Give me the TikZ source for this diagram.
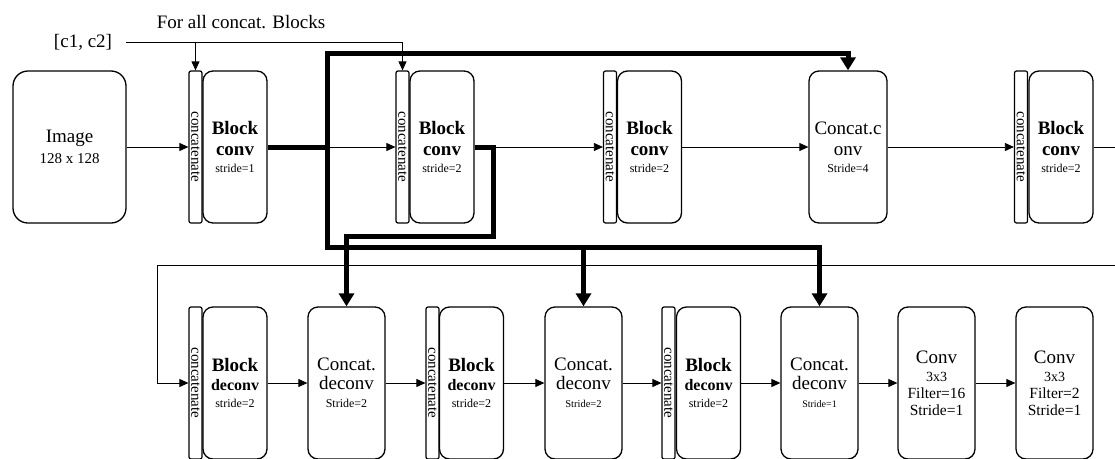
\documentclass[tikz,border=0pt]{standalone}
\usepackage{fontspec}
\setmainfont{Liberation Serif}
\usetikzlibrary{arrows.meta}
\tikzset{
  box/.style={draw, line width=1.3pt, rounded corners=10pt, minimum height=152pt, inner sep=0pt, align=center},
  imgbox/.style={box, rounded corners=15pt, minimum width=113pt, font=\fontsize{19}{21}\selectfont},
  blk/.style={box, minimum width=64pt, font=\fontsize{19}{21}\selectfont\bfseries},
  dblk/.style={box, minimum width=64pt, font=\fontsize{19}{19}\selectfont\bfseries},
  cbox/.style={box, minimum width=77pt, font=\fontsize{19}{19}\selectfont},
  strip/.style={draw, line width=1.2pt, rounded corners=2pt, minimum width=13pt, minimum height=152pt, inner sep=0pt, font=\fontsize{15}{15}\selectfont},
  conn/.style={line width=0.8pt, -{Triangle[length=9pt,width=8pt]}},
  plain/.style={line width=0.8pt},
  thk/.style={line width=5pt},
  thkarrow/.style={line width=5pt, -{Triangle[length=13pt,width=15pt]}},
  lbl/.style={font=\fontsize{19}{21}\selectfont, inner sep=0pt}
}
\newcommand{\cattext}{\rotatebox{-90}{concatenate}}
\begin{document}
\begin{tikzpicture}[x=1pt, y=-1pt]
\useasboundingbox (0,0) rectangle (1115,458);
\clip (0,0) rectangle (1115,458);

% top row
\node[imgbox] (img) at (69.5,147) {Image\\{\fontsize{15}{15}\selectfont 128 x 128}};
\node[strip] (s1) at (195.5,147) {\cattext};
\node[blk] (b1) at (235,147) {Block\\conv\\[-4pt]{\fontsize{12}{12}\selectfont\mdseries stride=1}};
\node[strip] (s2) at (402.5,147) {\cattext};
\node[blk] (b2) at (442,147) {Block\\conv\\[-4pt]{\fontsize{12}{12}\selectfont\mdseries stride=2}};
\node[strip] (s3) at (610,147) {\cattext};
\node[blk] (b3) at (649.5,147) {Block\\conv\\[-4pt]{\fontsize{12}{12}\selectfont\mdseries stride=2}};
\node[box, minimum width=78pt, font=\fontsize{19}{21}\selectfont] (cc) at (848,147) {Concat.c\\onv\\[-4pt]{\fontsize{12}{12}\selectfont Stride=4}};
\node[strip] (s4) at (1021,147) {\cattext};
\node[blk] (b4) at (1061,147) {Block\\conv\\[-4pt]{\fontsize{12}{12}\selectfont\mdseries stride=2}};

% bottom row
\node[strip] (s5) at (195.5,383) {\cattext};
\node[dblk] (b5) at (235,383) {Block\\{\fontsize{16}{16}\selectfont deconv}\\[-2pt]{\fontsize{12}{12}\selectfont\mdseries stride=2}};
\node[cbox] (cd1) at (346.5,383) {Concat.\\deconv\\[-1pt]{\fontsize{12}{12}\selectfont Stride=2}};
\node[strip] (s6) at (432.5,383) {\cattext};
\node[dblk] (b6) at (471.5,383) {Block\\{\fontsize{16}{16}\selectfont deconv}\\[-2pt]{\fontsize{12}{12}\selectfont\mdseries stride=2}};
\node[cbox] (cd2) at (583.5,383) {Concat.\\deconv\\[-1pt]{\fontsize{10.5}{10.5}\selectfont Stride=2}};
\node[strip] (s7) at (668.5,383) {\cattext};
\node[dblk] (b7) at (708.5,383) {Block\\{\fontsize{16}{16}\selectfont deconv}\\[-2pt]{\fontsize{12}{12}\selectfont\mdseries stride=2}};
\node[cbox] (cd3) at (819.5,383) {Concat.\\deconv\\[-1pt]{\fontsize{10}{10}\selectfont Stride=1}};
\node[box, minimum width=77pt, font=\fontsize{19}{18}\selectfont] (cv1) at (936.5,383) {Conv\\{\fontsize{14}{14}\selectfont 3x3}\\[-1pt]{\fontsize{15.5}{15}\selectfont Filter=16}\\[-1pt]{\fontsize{15.5}{15}\selectfont Stride=1}};
\node[box, minimum width=77pt, font=\fontsize{19}{18}\selectfont] (cv2) at (1054.5,383) {Conv\\{\fontsize{14}{14}\selectfont 3x3}\\[-1pt]{\fontsize{15.5}{15}\selectfont Filter=2}\\[-1pt]{\fontsize{15.5}{15}\selectfont Stride=1}};

% labels
\node[lbl] (note) at (241,22) {For all concat. Blocks};
\node[lbl, inner xsep=14pt] (cin) at (83,42) {[c1, c2]};

% coordinates
\coordinate (j1) at (327,147);
\coordinate (j2) at (493,147);
\coordinate (topy) at (0,53);
\coordinate (boty) at (0,247);
\coordinate (midy) at (0,236);
\coordinate (cy) at (0,42);
\coordinate (r1) at (1115,147);
\coordinate (r2) at (1115,265);
\coordinate (l2) at (157,265);

% thin connectors
\draw[plain] (cin.east) -- (s2.north |- cy);
\draw[conn] (s2.north |- cy) -- (s2.north);
\draw[conn] (s1.north |- cy) -- (s1.north);
\draw[conn] (img.east) -- (s1.west);
\draw[conn] (j1) -- (s2.west);
\draw[conn] (j2) -- (s3.west);
\draw[conn] (b3.east) -- (cc.west);
\draw[conn] (cc.east) -- (s4.west);
\draw[plain] (b4.east) -- (r1);
\draw[conn] (r2) -- (l2) |- (s5.west);
\draw[conn] (b5.east) -- (cd1.west);
\draw[conn] (cd1.east) -- (s6.west);
\draw[conn] (b6.east) -- (cd2.west);
\draw[conn] (cd2.east) -- (s7.west);
\draw[conn] (b7.east) -- (cd3.west);
\draw[conn] (cd3.east) -- (cv1.west);
\draw[conn] (cv1.east) -- (cv2.west);

% thick skip connectors
\draw[thk] (b1.east) -- (j1);
\draw[thkarrow] (j1) |- (cc.north |- topy) -- (cc.north);
\draw[thkarrow] (j1) |- (cd3.north |- boty) -- (cd3.north);
\draw[thkarrow] (cd2.north |- boty) -- (cd2.north);
\draw[thkarrow] (b2.east) -- (j2) |- (cd1.north |- midy) -- (cd1.north);
\end{tikzpicture}
\end{document}
